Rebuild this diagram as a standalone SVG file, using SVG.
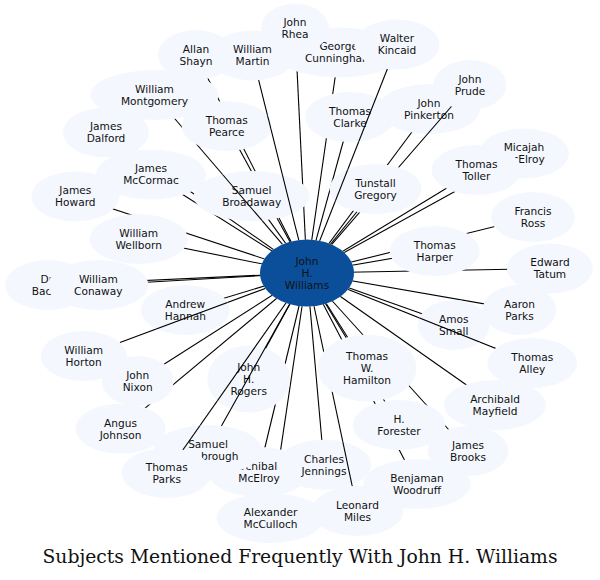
<svg xmlns="http://www.w3.org/2000/svg" xmlns:xlink="http://www.w3.org/1999/xlink" width="600" height="580" viewBox="0 0 600 580">
<style>
.nd{fill:#f4f8fe;stroke:none}
.ctr{fill:#0b4f9a;stroke:none}
.lb{font-family:"DejaVu Sans","Liberation Sans",sans-serif;font-size:10.6px;text-anchor:middle;fill:#111}
.ls{font-family:"DejaVu Sans","Liberation Sans",sans-serif;font-size:10.6px;text-anchor:start;fill:#111}
.ttl{font-family:"DejaVu Serif","Liberation Serif",serif;font-size:18px;text-anchor:middle;fill:#111}
.e{stroke:#000;stroke-width:1.1;fill:none}
</style>
<defs>
<g id="allEll" fill="#000">
<ellipse cx="338.7" cy="52.5" rx="64" ry="25"/>
<ellipse cx="295" cy="28.5" rx="34" ry="25"/>
<ellipse cx="397" cy="44.5" rx="42.5" ry="25"/>
<ellipse cx="252.5" cy="55.5" rx="43" ry="25"/>
<ellipse cx="196" cy="55" rx="38" ry="25"/>
<ellipse cx="154.5" cy="95" rx="64" ry="25"/>
<ellipse cx="226.7" cy="126" rx="45" ry="25"/>
<ellipse cx="350" cy="117" rx="45" ry="25"/>
<ellipse cx="429" cy="109" rx="51" ry="25"/>
<ellipse cx="470" cy="85" rx="36.5" ry="25"/>
<ellipse cx="106" cy="132.5" rx="43" ry="25"/>
<ellipse cx="151" cy="174.5" rx="55" ry="25"/>
<ellipse cx="75.3" cy="196.5" rx="44" ry="25"/>
<ellipse cx="251.7" cy="196" rx="58" ry="25"/>
<ellipse cx="375.5" cy="189" rx="46" ry="25"/>
<ellipse cx="524" cy="153.5" rx="45" ry="25"/>
<ellipse cx="476.5" cy="170" rx="45" ry="25"/>
<ellipse cx="533" cy="217" rx="42" ry="25"/>
<ellipse cx="138.7" cy="239" rx="49" ry="25"/>
<ellipse cx="434.7" cy="251" rx="45" ry="25"/>
<ellipse cx="550" cy="268.5" rx="43" ry="25"/>
<ellipse cx="48" cy="285" rx="43" ry="25"/>
<ellipse cx="98.3" cy="285" rx="50" ry="25"/>
<ellipse cx="185.3" cy="310" rx="44.5" ry="25"/>
<ellipse cx="519.5" cy="310" rx="37" ry="25"/>
<ellipse cx="453.7" cy="325" rx="36" ry="25"/>
<ellipse cx="83.7" cy="356" rx="43" ry="25"/>
<ellipse cx="532.3" cy="363" rx="45" ry="25"/>
<ellipse cx="367" cy="368" rx="49.5" ry="33.5"/>
<ellipse cx="248.7" cy="379" rx="41.5" ry="33.5"/>
<ellipse cx="137.7" cy="381" rx="36" ry="25"/>
<ellipse cx="495" cy="405" rx="51" ry="25"/>
<ellipse cx="399" cy="425" rx="46.5" ry="25"/>
<ellipse cx="120.5" cy="428.7" rx="45" ry="25"/>
<ellipse cx="259" cy="472" rx="51" ry="25"/>
<ellipse cx="208" cy="450" rx="54" ry="25"/>
<ellipse cx="166.7" cy="473" rx="45" ry="25"/>
<ellipse cx="324" cy="464.7" rx="47" ry="25"/>
<ellipse cx="468" cy="451" rx="40.5" ry="25"/>
<ellipse cx="417" cy="484" rx="53.6" ry="25"/>
<ellipse cx="270.5" cy="518" rx="54" ry="25"/>
<ellipse cx="357.5" cy="511" rx="46" ry="25"/>
<ellipse cx="307" cy="273" rx="47" ry="33.5"/>
</g>
<mask id="mk" maskUnits="userSpaceOnUse" x="0" y="0" width="600" height="580">
<rect x="0" y="0" width="600" height="580" fill="#fff"/><use href="#allEll"/>
</mask>
<mask id="mk-montgomery" maskUnits="userSpaceOnUse" x="0" y="0" width="600" height="580">
<rect x="0" y="0" width="600" height="580" fill="#fff"/><use href="#allEll"/>
<ellipse cx="251.7" cy="196" rx="58" ry="25" fill="#fff"/>
<ellipse cx="154.5" cy="95" rx="64" ry="25" fill="#000"/>
<ellipse cx="307" cy="273" rx="47" ry="33.5" fill="#000"/>
</mask>
<mask id="mk-martin" maskUnits="userSpaceOnUse" x="0" y="0" width="600" height="580">
<rect x="0" y="0" width="600" height="580" fill="#fff"/><use href="#allEll"/>
<ellipse cx="226.7" cy="126" rx="45" ry="25" fill="#fff"/>
<ellipse cx="251.7" cy="196" rx="58" ry="25" fill="#fff"/>
<ellipse cx="252.5" cy="55.5" rx="43" ry="25" fill="#000"/>
<ellipse cx="307" cy="273" rx="47" ry="33.5" fill="#000"/>
</mask>
<mask id="mk-kincaid" maskUnits="userSpaceOnUse" x="0" y="0" width="600" height="580">
<rect x="0" y="0" width="600" height="580" fill="#fff"/><use href="#allEll"/>
<ellipse cx="350" cy="117" rx="45" ry="25" fill="#fff"/>
<ellipse cx="375.5" cy="189" rx="46" ry="25" fill="#fff"/>
<ellipse cx="397" cy="44.5" rx="42.5" ry="25" fill="#000"/>
<ellipse cx="307" cy="273" rx="47" ry="33.5" fill="#000"/>
</mask>
<mask id="mk-prude" maskUnits="userSpaceOnUse" x="0" y="0" width="600" height="580">
<rect x="0" y="0" width="600" height="580" fill="#fff"/><use href="#allEll"/>
<ellipse cx="429" cy="109" rx="51" ry="25" fill="#fff"/>
<ellipse cx="470" cy="85" rx="36.5" ry="25" fill="#000"/>
<ellipse cx="375.5" cy="189" rx="46" ry="25" fill="#000"/>
<ellipse cx="307" cy="273" rx="47" ry="33.5" fill="#000"/>
</mask>
<mask id="mk-alley" maskUnits="userSpaceOnUse" x="0" y="0" width="600" height="580">
<rect x="0" y="0" width="600" height="580" fill="#fff"/><use href="#allEll"/>
<ellipse cx="453.7" cy="325" rx="36" ry="25" fill="#fff"/>
<ellipse cx="532.3" cy="363" rx="45" ry="25" fill="#000"/>
<ellipse cx="307" cy="273" rx="47" ry="33.5" fill="#000"/>
</mask>
<mask id="mk-horton" maskUnits="userSpaceOnUse" x="0" y="0" width="600" height="580">
<rect x="0" y="0" width="600" height="580" fill="#fff"/><use href="#allEll"/>
<ellipse cx="185.3" cy="310" rx="44.5" ry="25" fill="#fff"/>
<ellipse cx="83.7" cy="356" rx="43" ry="25" fill="#000"/>
<ellipse cx="307" cy="273" rx="47" ry="33.5" fill="#000"/>
</mask>
<mask id="mk-miles" maskUnits="userSpaceOnUse" x="0" y="0" width="600" height="580">
<rect x="0" y="0" width="600" height="580" fill="#fff"/><use href="#allEll"/>
<ellipse cx="324" cy="464.7" rx="47" ry="25" fill="#fff"/>
<ellipse cx="357.5" cy="511" rx="46" ry="25" fill="#000"/>
<ellipse cx="367" cy="368" rx="49.5" ry="33.5" fill="#000"/>
<ellipse cx="307" cy="273" rx="47" ry="33.5" fill="#000"/>
</mask>
<mask id="mk-yarb" maskUnits="userSpaceOnUse" x="0" y="0" width="600" height="580">
<rect x="0" y="0" width="600" height="580" fill="#fff"/><use href="#allEll"/>
<ellipse cx="248.7" cy="379" rx="41.5" ry="33.5" fill="#fff"/>
<ellipse cx="208" cy="450" rx="54" ry="25" fill="#000"/>
<ellipse cx="307" cy="273" rx="47" ry="33.5" fill="#000"/>
</mask>
<mask id="mk-tparks" maskUnits="userSpaceOnUse" x="0" y="0" width="600" height="580">
<rect x="0" y="0" width="600" height="580" fill="#fff"/><use href="#allEll"/>
<ellipse cx="248.7" cy="379" rx="41.5" ry="33.5" fill="#fff"/>
<ellipse cx="208" cy="450" rx="54" ry="25" fill="#fff"/>
<ellipse cx="166.7" cy="473" rx="45" ry="25" fill="#000"/>
<ellipse cx="307" cy="273" rx="47" ry="33.5" fill="#000"/>
</mask>
</defs>
<rect x="0" y="0" width="600" height="580" fill="#fff"/>
<g id="nodes">
<g id="n-cunningham"><ellipse class="nd" cx="338.7" cy="52.5" rx="64" ry="25"/><text class="lb" x="338.7" y="50.3">George</text><text class="lb" x="338.7" y="62.3">Cunningham</text></g>
<g id="n-rhea"><ellipse class="nd" cx="295" cy="28.5" rx="34" ry="25"/><text class="lb" x="295" y="26.3">John</text><text class="lb" x="295" y="38.3">Rhea</text></g>
<g id="n-kincaid"><ellipse class="nd" cx="397" cy="44.5" rx="42.5" ry="25"/><text class="lb" x="397" y="42.3">Walter</text><text class="lb" x="397" y="54.3">Kincaid</text></g>
<g id="n-martin"><ellipse class="nd" cx="252.5" cy="55.5" rx="43" ry="25"/><text class="lb" x="252.5" y="53.3">William</text><text class="lb" x="252.5" y="65.3">Martin</text></g>
<g id="n-shayn"><ellipse class="nd" cx="196" cy="55" rx="38" ry="25"/><text class="lb" x="196" y="52.8">Allan</text><text class="lb" x="196" y="64.8">Shayn</text></g>
<g id="n-montgomery"><ellipse class="nd" cx="154.5" cy="95" rx="64" ry="25"/><text class="lb" x="154.5" y="92.8">William</text><text class="lb" x="154.5" y="104.8">Montgomery</text></g>
<g id="n-pearce"><ellipse class="nd" cx="226.7" cy="126" rx="45" ry="25"/><text class="lb" x="226.7" y="123.8">Thomas</text><text class="lb" x="226.7" y="135.8">Pearce</text></g>
<g id="n-clarke"><ellipse class="nd" cx="350" cy="117" rx="45" ry="25"/><text class="lb" x="350" y="114.8">Thomas</text><text class="lb" x="350" y="126.8">Clarke</text></g>
<g id="n-pinkerton"><ellipse class="nd" cx="429" cy="109" rx="51" ry="25"/><text class="lb" x="429" y="106.8">John</text><text class="lb" x="429" y="118.8">Pinkerton</text></g>
<g id="n-prude"><ellipse class="nd" cx="470" cy="85" rx="36.5" ry="25"/><text class="lb" x="470" y="82.8">John</text><text class="lb" x="470" y="94.8">Prude</text></g>
<g id="n-dalford"><ellipse class="nd" cx="106" cy="132.5" rx="43" ry="25"/><text class="lb" x="106" y="130.3">James</text><text class="lb" x="106" y="142.3">Dalford</text></g>
<g id="n-mccormac"><ellipse class="nd" cx="151" cy="174.5" rx="55" ry="25"/><text class="lb" x="151" y="172.3">James</text><text class="lb" x="151" y="184.3">McCormac</text></g>
<g id="n-howard"><ellipse class="nd" cx="75.3" cy="196.5" rx="44" ry="25"/><text class="lb" x="75.3" y="194.3">James</text><text class="lb" x="75.3" y="206.3">Howard</text></g>
<g id="n-broadaway"><ellipse class="nd" cx="251.7" cy="196" rx="58" ry="25"/><text class="lb" x="251.7" y="193.8">Samuel</text><text class="lb" x="251.7" y="205.8">Broadaway</text></g>
<g id="n-tunstall"><ellipse class="nd" cx="375.5" cy="189" rx="46" ry="25"/><text class="lb" x="375.5" y="186.8">Tunstall</text><text class="lb" x="375.5" y="198.8">Gregory</text></g>
<g id="n-micajah"><ellipse class="nd" cx="524" cy="153.5" rx="45" ry="25"/><text class="lb" x="524" y="151.3">Micajah</text><text class="lb" x="524" y="163.3">McElroy</text></g>
<g id="n-toller"><ellipse class="nd" cx="476.5" cy="170" rx="45" ry="25"/><text class="lb" x="476.5" y="167.8">Thomas</text><text class="lb" x="476.5" y="179.8">Toller</text></g>
<g id="n-ross"><ellipse class="nd" cx="533" cy="217" rx="42" ry="25"/><text class="lb" x="533" y="214.8">Francis</text><text class="lb" x="533" y="226.8">Ross</text></g>
<g id="n-wellborn"><ellipse class="nd" cx="138.7" cy="239" rx="49" ry="25"/><text class="lb" x="138.7" y="236.8">William</text><text class="lb" x="138.7" y="248.8">Wellborn</text></g>
<g id="n-harper"><ellipse class="nd" cx="434.7" cy="251" rx="45" ry="25"/><text class="lb" x="434.7" y="248.8">Thomas</text><text class="lb" x="434.7" y="260.8">Harper</text></g>
<g id="n-tatum"><ellipse class="nd" cx="550" cy="268.5" rx="43" ry="25"/><text class="lb" x="550" y="266.3">Edward</text><text class="lb" x="550" y="278.3">Tatum</text></g>
<g id="n-drbac"><ellipse class="nd" cx="48" cy="285" rx="43" ry="25"/><text class="lb" x="48" y="282.8">Dr.</text><text class="ls" x="31.7" y="294.8">Bac</text></g>
<g id="n-conaway"><ellipse class="nd" cx="98.3" cy="285" rx="50" ry="25"/><text class="lb" x="98.3" y="282.8">William</text><text class="lb" x="98.3" y="294.8">Conaway</text></g>
<g id="n-hannah"><ellipse class="nd" cx="185.3" cy="310" rx="44.5" ry="25"/><text class="lb" x="185.3" y="307.8">Andrew</text><text class="lb" x="185.3" y="319.8">Hannah</text></g>
<g id="n-aaron"><ellipse class="nd" cx="519.5" cy="310" rx="37" ry="25"/><text class="lb" x="519.5" y="307.8">Aaron</text><text class="lb" x="519.5" y="319.8">Parks</text></g>
<g id="n-amos"><ellipse class="nd" cx="453.7" cy="325" rx="36" ry="25"/><text class="lb" x="453.7" y="322.8">Amos</text><text class="lb" x="453.7" y="334.8">Small</text></g>
<g id="n-horton"><ellipse class="nd" cx="83.7" cy="356" rx="43" ry="25"/><text class="lb" x="83.7" y="353.8">William</text><text class="lb" x="83.7" y="365.8">Horton</text></g>
<g id="n-alley"><ellipse class="nd" cx="532.3" cy="363" rx="45" ry="25"/><text class="lb" x="532.3" y="360.8">Thomas</text><text class="lb" x="532.3" y="372.8">Alley</text></g>
<g id="n-hamilton"><ellipse class="nd" cx="367" cy="368" rx="49.5" ry="33.5"/><text class="lb" x="367" y="359.8">Thomas</text><text class="lb" x="367" y="371.8">W.</text><text class="lb" x="367" y="383.8">Hamilton</text></g>
<g id="n-rogers"><ellipse class="nd" cx="248.7" cy="379" rx="41.5" ry="33.5"/><text class="lb" x="248.7" y="370.8">John</text><text class="lb" x="248.7" y="382.8">H.</text><text class="lb" x="248.7" y="394.8">Rogers</text></g>
<g id="n-nixon"><ellipse class="nd" cx="137.7" cy="381" rx="36" ry="25"/><text class="lb" x="137.7" y="378.8">John</text><text class="lb" x="137.7" y="390.8">Nixon</text></g>
<g id="n-mayfield"><ellipse class="nd" cx="495" cy="405" rx="51" ry="25"/><text class="lb" x="495" y="402.8">Archibald</text><text class="lb" x="495" y="414.8">Mayfield</text></g>
<g id="n-forester"><ellipse class="nd" cx="399" cy="425" rx="46.5" ry="25"/><text class="lb" x="399" y="422.8">H.</text><text class="lb" x="399" y="434.8">Forester</text></g>
<g id="n-johnson"><ellipse class="nd" cx="120.5" cy="428.7" rx="45" ry="25"/><text class="lb" x="120.5" y="426.5">Angus</text><text class="lb" x="120.5" y="438.5">Johnson</text></g>
<g id="n-amcelroy"><ellipse class="nd" cx="259" cy="472" rx="51" ry="25"/><text class="lb" x="259" y="469.8">Archibald</text><text class="lb" x="259" y="481.8">McElroy</text></g>
<g id="n-yarbrough"><ellipse class="nd" cx="208" cy="450" rx="54" ry="25"/><text class="lb" x="208" y="447.8">Samuel</text><text class="ls" x="201" y="459.8">brough</text></g>
<g id="n-tparks"><ellipse class="nd" cx="166.7" cy="473" rx="45" ry="25"/><text class="lb" x="166.7" y="470.8">Thomas</text><text class="lb" x="166.7" y="482.8">Parks</text></g>
<g id="n-jennings"><ellipse class="nd" cx="324" cy="464.7" rx="47" ry="25"/><text class="lb" x="324" y="462.5">Charles</text><text class="lb" x="324" y="474.5">Jennings</text></g>
<g id="n-brooks"><ellipse class="nd" cx="468" cy="451" rx="40.5" ry="25"/><text class="lb" x="468" y="448.8">James</text><text class="lb" x="468" y="460.8">Brooks</text></g>
<g id="n-woodruff"><ellipse class="nd" cx="417" cy="484" rx="53.6" ry="25"/><text class="lb" x="417" y="481.8">Benjaman</text><text class="lb" x="417" y="493.8">Woodruff</text></g>
<g id="n-mcculloch"><ellipse class="nd" cx="270.5" cy="518" rx="54" ry="25"/><text class="lb" x="270.5" y="515.8">Alexander</text><text class="lb" x="270.5" y="527.8">McCulloch</text></g>
<g id="n-miles"><ellipse class="nd" cx="357.5" cy="511" rx="46" ry="25"/><text class="lb" x="357.5" y="508.8">Leonard</text><text class="lb" x="357.5" y="520.8">Miles</text></g>
<g id="n-center"><ellipse class="ctr" cx="307" cy="273" rx="47" ry="33.5"/><text class="lb" x="307" y="264.8">John</text><text class="lb" x="307" y="276.8">H.</text><text class="lb" x="307" y="288.8">Williams</text></g>
</g>
<g id="connectors">
<line class="e" mask="url(#mk)" x1="307" y1="273" x2="338.7" y2="52.5"/>
<line class="e" mask="url(#mk)" x1="307" y1="273" x2="295" y2="28.5"/>
<line class="e" mask="url(#mk-kincaid)" x1="307" y1="273" x2="397" y2="44.5"/>
<line class="e" mask="url(#mk-martin)" x1="307" y1="273" x2="252.5" y2="55.5"/>
<line class="e" mask="url(#mk)" x1="307" y1="273" x2="196" y2="55"/>
<line class="e" mask="url(#mk-montgomery)" x1="307" y1="273" x2="154.5" y2="95"/>
<line class="e" mask="url(#mk)" x1="307" y1="273" x2="226.7" y2="126"/>
<line class="e" mask="url(#mk)" x1="307" y1="273" x2="350" y2="117"/>
<line class="e" mask="url(#mk)" x1="307" y1="273" x2="429" y2="109"/>
<line class="e" mask="url(#mk-prude)" x1="307" y1="273" x2="470" y2="85"/>
<line class="e" mask="url(#mk)" x1="307" y1="273" x2="106" y2="132.5"/>
<line class="e" mask="url(#mk)" x1="307" y1="273" x2="151" y2="174.5"/>
<line class="e" mask="url(#mk)" x1="307" y1="273" x2="75.3" y2="196.5"/>
<line class="e" mask="url(#mk)" x1="307" y1="273" x2="251.7" y2="196"/>
<line class="e" mask="url(#mk)" x1="307" y1="273" x2="375.5" y2="189"/>
<line class="e" mask="url(#mk)" x1="307" y1="273" x2="524" y2="153.5"/>
<line class="e" mask="url(#mk)" x1="307" y1="273" x2="476.5" y2="170"/>
<line class="e" mask="url(#mk)" x1="307" y1="273" x2="533" y2="217"/>
<line class="e" mask="url(#mk)" x1="307" y1="273" x2="138.7" y2="239"/>
<line class="e" mask="url(#mk)" x1="307" y1="273" x2="434.7" y2="251"/>
<line class="e" mask="url(#mk)" x1="307" y1="273" x2="550" y2="268.5"/>
<line class="e" mask="url(#mk)" x1="307" y1="273" x2="48" y2="285"/>
<line class="e" mask="url(#mk)" x1="307" y1="273" x2="98.3" y2="285"/>
<line class="e" mask="url(#mk)" x1="307" y1="273" x2="185.3" y2="310"/>
<line class="e" mask="url(#mk)" x1="307" y1="273" x2="519.5" y2="310"/>
<line class="e" mask="url(#mk)" x1="307" y1="273" x2="453.7" y2="325"/>
<line class="e" mask="url(#mk-horton)" x1="307" y1="273" x2="83.7" y2="356"/>
<line class="e" mask="url(#mk-alley)" x1="307" y1="273" x2="532.3" y2="363"/>
<line class="e" mask="url(#mk)" x1="307" y1="273" x2="367" y2="368"/>
<line class="e" mask="url(#mk)" x1="307" y1="273" x2="248.7" y2="379"/>
<line class="e" mask="url(#mk)" x1="307" y1="273" x2="137.7" y2="381"/>
<line class="e" mask="url(#mk)" x1="307" y1="273" x2="495" y2="405"/>
<line class="e" mask="url(#mk)" x1="307" y1="273" x2="399" y2="425"/>
<line class="e" mask="url(#mk)" x1="307" y1="273" x2="120.5" y2="428.7"/>
<line class="e" mask="url(#mk)" x1="307" y1="273" x2="259" y2="472"/>
<line class="e" mask="url(#mk-yarb)" x1="307" y1="273" x2="208" y2="450"/>
<line class="e" mask="url(#mk-tparks)" x1="307" y1="273" x2="166.7" y2="473"/>
<line class="e" mask="url(#mk)" x1="307" y1="273" x2="324" y2="464.7"/>
<line class="e" mask="url(#mk)" x1="307" y1="273" x2="468" y2="451"/>
<line class="e" mask="url(#mk)" x1="307" y1="273" x2="417" y2="484"/>
<line class="e" mask="url(#mk)" x1="307" y1="273" x2="270.5" y2="518"/>
<line class="e" mask="url(#mk-miles)" x1="307" y1="273" x2="357.5" y2="511"/>
</g>
<text class="ttl" x="300" y="563" textLength="515" lengthAdjust="spacingAndGlyphs">Subjects Mentioned Frequently With John H. Williams</text>
</svg>
